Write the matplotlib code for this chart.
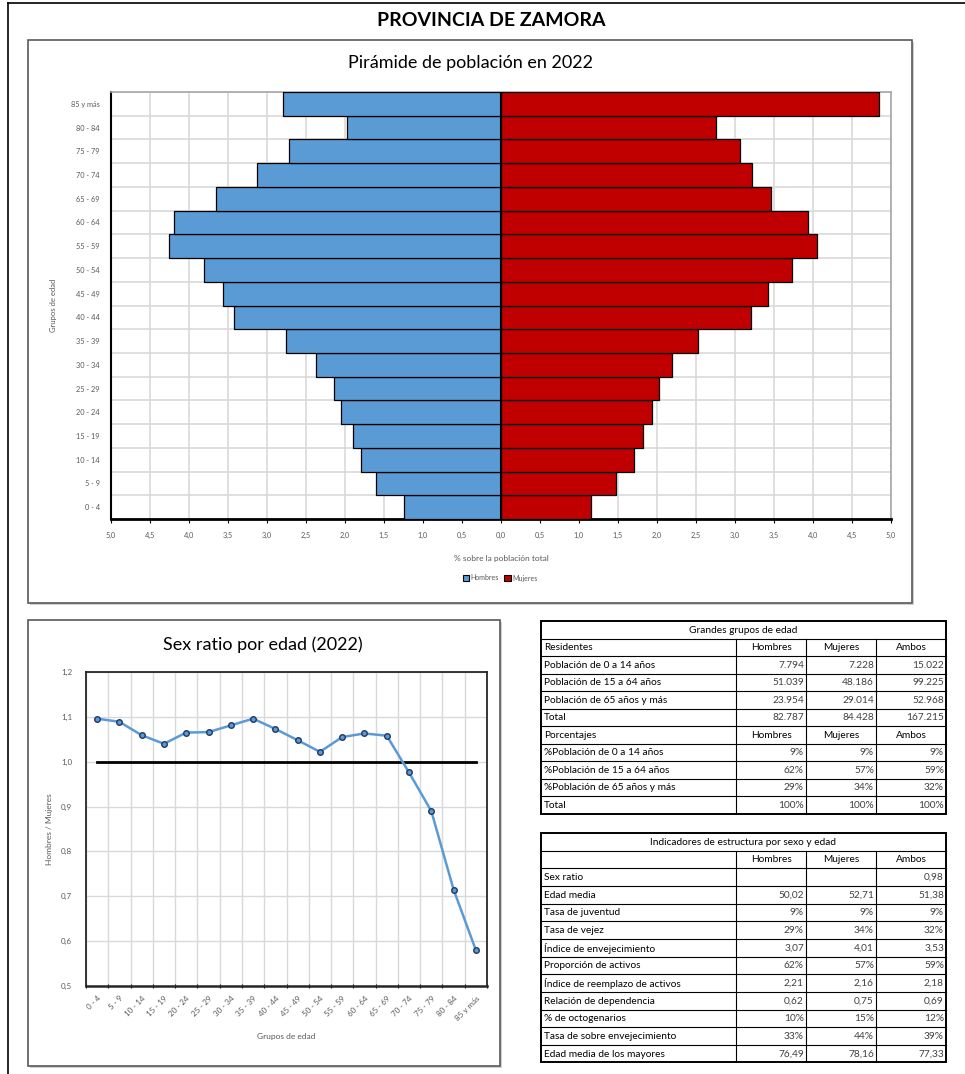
import matplotlib
matplotlib.use("Agg")
import matplotlib.pyplot as plt
from matplotlib.patches import Rectangle, Patch
from matplotlib.lines import Line2D
from matplotlib.ticker import FuncFormatter, FixedLocator
import numpy as np

plt.rcParams['font.family'] = ['Lato', 'DejaVu Sans']

# ---------------- data ----------------
grupos = ["0 - 4", "5 - 9", "10 - 14", "15 - 19", "20 - 24", "25 - 29", "30 - 34",
          "35 - 39", "40 - 44", "45 - 49", "50 - 54", "55 - 59", "60 - 64",
          "65 - 69", "70 - 74", "75 - 79", "80 - 84", "85 y más"]
hombres_pct = [1.25, 1.60, 1.79, 1.90, 2.05, 2.14, 2.37, 2.76, 3.42, 3.57,
               3.81, 4.26, 4.19, 3.65, 3.13, 2.72, 1.97, 2.80]
mujeres_pct = [1.16, 1.47, 1.70, 1.82, 1.93, 2.02, 2.19, 2.53, 3.20, 3.42,
               3.73, 4.05, 3.94, 3.46, 3.22, 3.06, 2.76, 4.84]
sex_ratio = [1.096, 1.089, 1.059, 1.040, 1.065, 1.066, 1.081, 1.096, 1.073,
             1.048, 1.022, 1.055, 1.063, 1.058, 0.976, 0.890, 0.715, 0.580]
sex_ratio_ref = 1.0
pyr_ticks = [-5.0, -4.5, -4.0, -3.5, -3.0, -2.5, -2.0, -1.5, -1.0, -0.5, 0.0,
             0.5, 1.0, 1.5, 2.0, 2.5, 3.0, 3.5, 4.0, 4.5, 5.0]
sr_ticks = [0.5, 0.6, 0.7, 0.8, 0.9, 1.0, 1.1, 1.2]

t_cols = ["Hombres", "Mujeres", "Ambos"]
t1_title = "Grandes grupos de edad"
t1_res_labels = ["Población de 0 a 14 años", "Población de 15 a 64 años",
                 "Población de 65 años y más", "Total"]
t1_res_vals = [["7.794", "7.228", "15.022"],
               ["51.039", "48.186", "99.225"],
               ["23.954", "29.014", "52.968"],
               ["82.787", "84.428", "167.215"]]
t1_pct_labels = ["%Población de 0 a 14 años", "%Población de 15 a 64 años",
                 "%Población de 65 años y más", "Total"]
t1_pct_vals = [["9%", "9%", "9%"],
               ["62%", "57%", "59%"],
               ["29%", "34%", "32%"],
               ["100%", "100%", "100%"]]
t2_title = "Indicadores de estructura por sexo y edad"
t2_labels = ["Sex ratio", "Edad media", "Tasa de juventud", "Tasa de vejez",
             "Índice de envejecimiento", "Proporción de activos",
             "Índice de reemplazo de activos", "Relación de dependencia",
             "% de octogenarios", "Tasa de sobre envejecimiento",
             "Edad media de los mayores"]
t2_vals = [["", "", "0,98"],
           ["50,02", "52,71", "51,38"],
           ["9%", "9%", "9%"],
           ["29%", "34%", "32%"],
           ["3,07", "4,01", "3,53"],
           ["62%", "57%", "59%"],
           ["2,21", "2,16", "2,18"],
           ["0,62", "0,75", "0,69"],
           ["10%", "15%", "12%"],
           ["33%", "44%", "39%"],
           ["76,49", "78,16", "77,33"]]

# ---------------- figure ----------------
W, H = 965, 1074
fig = plt.figure(figsize=(W / 100, H / 100), dpi=100)
fig.patch.set_facecolor("white")

def fx(x):
    return x / W

def fy(y):
    return 1 - y / H

def add_ax(x0, y0, x1, y1):
    return fig.add_axes([fx(x0), fy(y1), (x1 - x0) / W, (y1 - y0) / H])

def frame(x0, y0, x1, y1, color="#595959", lw=1.2):
    fig.add_artist(Rectangle((fx(x0) + 0.002, fy(y1) - 0.002), (x1 - x0) / W, (y1 - y0) / H,
                             transform=fig.transFigure, fill=True, facecolor="#d0d0d0",
                             edgecolor="none", zorder=-2))
    fig.add_artist(Rectangle((fx(x0), fy(y1)), (x1 - x0) / W, (y1 - y0) / H,
                             transform=fig.transFigure, facecolor="white",
                             edgecolor=color, lw=lw, zorder=-1))

txt = "#595959"

# outer borders
fig.add_artist(Line2D([fx(8), fx(8)], [fy(3), fy(1074)], color="black", lw=1.2,
                      transform=fig.transFigure))
fig.add_artist(Line2D([fx(8), fx(965)], [fy(3), fy(3)], color="black", lw=1.2,
                      transform=fig.transFigure))
fig.text(fx(491), fy(21), "PROVINCIA DE ZAMORA", ha="center", va="center",
         fontsize=14, fontweight="bold", color="black")

# ---------------- pyramid ----------------
frame(28, 40, 912, 603)
fig.text(fx(471), fy(63), "Pirámide de población en 2022", ha="center", va="center",
         fontsize=13, color="black")
ax = add_ax(111, 92, 891, 519)
y = np.arange(len(grupos))
ax.barh(y, -np.array(hombres_pct), height=1.0, color="#5B9BD5", edgecolor="black",
        lw=0.9, label="Hombres", zorder=3)
ax.barh(y, mujeres_pct, height=1.0, color="#C00000", edgecolor="black",
        lw=0.9, label="Mujeres", zorder=3)
ax.set_xlim(-5, 5)
ax.set_ylim(-0.5, len(grupos) - 0.5)
ax.xaxis.set_major_locator(FixedLocator(pyr_ticks))
ax.xaxis.set_major_formatter(FuncFormatter(lambda v, p: f"{abs(v):.1f}".replace(".", ",")))
ax.set_yticks(y)
ax.set_yticklabels(grupos)
ax.yaxis.set_minor_locator(FixedLocator(np.arange(-0.5, len(grupos), 1.0)))
ax.grid(True, axis="x", which="major", color="#d9d9d9", lw=1.2, zorder=0)
ax.grid(True, axis="y", which="minor", color="#d9d9d9", lw=1.2, zorder=0)
ax.tick_params(axis="y", which="both", length=0, labelsize=5.3, colors=txt, pad=8)
ax.tick_params(axis="x", which="major", length=3, direction="out", labelsize=5.3,
               colors=txt, pad=6, color="black")
for s in ["top", "right"]:
    ax.spines[s].set_color("#a6a6a6")
    ax.spines[s].set_lw(1.2)
ax.spines["bottom"].set_color("black")
ax.spines["bottom"].set_lw(2)
ax.spines["left"].set_color("black")
ax.spines["left"].set_lw(1.5)
ax.axvline(0, color="black", lw=1.5, zorder=4)
ax.set_xlabel("% sobre la población total", fontsize=6, color=txt, labelpad=12)
ax.set_ylabel("Grupos de edad", fontsize=5.5, color=txt, labelpad=10)
leg = fig.legend(handles=[Patch(facecolor="#5B9BD5", edgecolor="black", lw=0.8, label="Hombres"),
                          Patch(facecolor="#C00000", edgecolor="black", lw=0.8, label="Mujeres")],
                 loc="center", bbox_to_anchor=(fx(500), fy(578)), ncol=2, frameon=False,
                 fontsize=5, handlelength=0.9, handleheight=0.9, handletextpad=0.2,
                 columnspacing=0.8, labelcolor=txt)

# ---------------- sex ratio ----------------
frame(28, 620, 500, 1066)
fig.text(fx(263), fy(645), "Sex ratio por edad (2022)", ha="center", va="center",
         fontsize=13, color="black")
ax2 = add_ax(86, 672, 487, 986)
xs = np.arange(len(grupos))
ax2.plot(xs, [sex_ratio_ref] * len(xs), color="black", lw=2, zorder=3)
ax2.plot(xs, sex_ratio, color="#5B9BD5", lw=1.8, marker="o", ms=4,
         mfc="#5B9BD5", mec="#203864", mew=1.0, zorder=4)
ax2.set_xlim(-0.5, len(grupos) - 0.5)
ax2.set_ylim(0.5, 1.2)
ax2.yaxis.set_major_locator(FixedLocator(sr_ticks))
ax2.yaxis.set_major_formatter(FuncFormatter(lambda v, p: f"{v:.1f}".replace(".", ",")))
ax2.xaxis.set_major_locator(FixedLocator(np.arange(-0.5, len(grupos), 1.0)))
ax2.xaxis.set_major_formatter(FuncFormatter(lambda v, p: ""))
ax2.xaxis.set_minor_locator(FixedLocator(xs))
ax2.set_xticklabels(grupos, minor=True, rotation=45, ha="right", rotation_mode="anchor")
ax2.tick_params(axis="x", which="minor", length=0, labelsize=5.8, colors=txt, pad=6)
ax2.tick_params(axis="x", which="major", length=3, direction="inout", color="black")
ax2.tick_params(axis="y", which="major", length=0, labelsize=5.8, colors=txt, pad=10)
ax2.grid(True, which="major", color="#d9d9d9", lw=1.0, zorder=0)
for s in ax2.spines.values():
    s.set_color("#262626")
    s.set_lw(1.3)
ax2.spines["bottom"].set_lw(1.8)
ax2.set_xlabel("Grupos de edad", fontsize=6, color=txt, labelpad=8)
ax2.set_ylabel("Hombres / Mujeres", fontsize=6, color=txt, labelpad=6)

# ---------------- tables ----------------
col_x = [541, 736, 806, 876, 946]

def hline(x0, x1, yy, lw=0.8):
    fig.add_artist(Line2D([fx(x0), fx(x1)], [fy(yy), fy(yy)], color="black", lw=lw,
                          transform=fig.transFigure))

def vline(xx, y0, y1, lw=0.8):
    fig.add_artist(Line2D([fx(xx), fx(xx)], [fy(y0), fy(y1)], color="black", lw=lw,
                          transform=fig.transFigure))

def draw_table(top, row_h, rows):
    n = len(rows)
    bottom = top + n * row_h
    for i, (kind, label, vals) in enumerate(rows):
        y0 = top + i * row_h
        yc = y0 + row_h / 2 + 0.5
        if i > 0:
            hline(col_x[0], col_x[-1], y0)
        if kind == "title":
            fig.text(fx((col_x[0] + col_x[-1]) / 2), fy(yc), label, ha="center",
                     va="center", fontsize=7.3, color="black")
            continue
        for cx in col_x[1:-1]:
            vline(cx, y0, y0 + row_h)
        fig.text(fx(col_x[0] + 3), fy(yc), label, ha="left", va="center",
                 fontsize=7.3, color="black")
        for j, v in enumerate(vals):
            if kind == "header":
                fig.text(fx((col_x[j + 1] + col_x[j + 2]) / 2), fy(yc), v, ha="center",
                         va="center", fontsize=7.3, color="black")
            else:
                fig.text(fx(col_x[j + 2] - 2), fy(yc), v, ha="right", va="center",
                         fontsize=7.3, color="#404040")
    fig.add_artist(Rectangle((fx(col_x[0]), fy(bottom)), (col_x[-1] - col_x[0]) / W,
                             (bottom - top) / H, transform=fig.transFigure, fill=False,
                             edgecolor="black", lw=1.4))

rows1 = [("title", t1_title, [])]
rows1.append(("header", "Residentes", t_cols))
rows1 += [("data", l, v) for l, v in zip(t1_res_labels, t1_res_vals)]
rows1.append(("header", "Porcentajes", t_cols))
rows1 += [("data", l, v) for l, v in zip(t1_pct_labels, t1_pct_vals)]
draw_table(621, 17.5, rows1)

rows2 = [("title", t2_title, [])]
rows2.append(("header", "", t_cols))
rows2 += [("data", l, v) for l, v in zip(t2_labels, t2_vals)]
draw_table(833, 17.65, rows2)

fig.savefig("out.png", dpi=100, facecolor="white")
